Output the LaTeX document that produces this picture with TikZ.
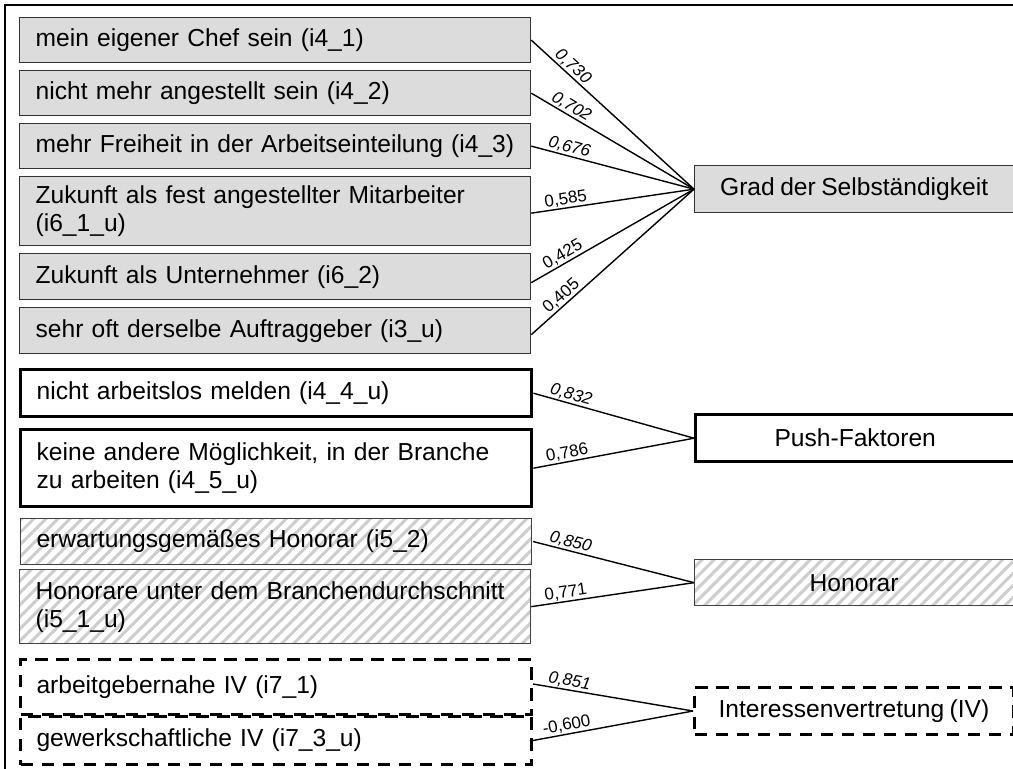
\documentclass[tikz,border=0pt]{standalone}
\usepackage{fontspec}
\setmainfont{Liberation Sans}[WordSpace=0.8]
\usetikzlibrary{patterns.meta}
\definecolor{boxgray}{RGB}{220,220,220}
\definecolor{hatchgray}{RGB}{205,205,205}
\begin{document}
\begin{tikzpicture}[x=1pt,y=-1pt,
  base/.style={rectangle, anchor=north west, inner xsep=16pt, inner ysep=0pt,
    font=\fontsize{24.6}{28}\selectfont, text width=479pt, align=left},
  graybox/.style={base, draw=black!80, line width=1.3pt, fill=boxgray},
  thickbox/.style={base, draw=black, line width=3.4pt},
  hatchbox/.style={base, draw=black!75, line width=1.3pt,
    pattern={Lines[angle=45,distance=8.5pt,line width=3pt]}, pattern color=hatchgray},
  dashbox/.style={base, draw=black, line width=3pt, dash pattern=on 12.5pt off 8.5pt},
  factor/.style={rectangle, anchor=north west, inner sep=0pt, minimum width=319pt,
    font=\fontsize{24.6}{28}\selectfont, align=center},
  conn/.style={draw=black, line width=1.4pt},
  lab/.style={font=\fontsize{17}{18}\selectfont, sloped, above, pos=0.22, inner sep=1pt},
  labit/.style={lab, font=\fontsize{17}{18}\selectfont\itshape}
]
\useasboundingbox (0,0) rectangle (1013,769);
% outer frame (top and left)
\draw[line width=2.2pt] (5,769) -- (5,5) -- (1013,5);

% left boxes
\node[graybox, minimum height=45pt] (b1) at (19,17) {mein eigener Chef sein (i4\_1)};
\node[graybox, minimum height=45pt] (b2) at (19,70) {nicht mehr angestellt sein (i4\_2)};
\node[graybox, minimum height=45pt] (b3) at (19,123) {mehr Freiheit in der Arbeitseinteilung (i4\_3)};
\node[graybox, minimum height=69pt] (b4) at (19,176) {Zukunft als fest angestellter Mitarbeiter\\(i6\_1\_u)};
\node[graybox, minimum height=46pt] (b5) at (19,253) {Zukunft als Unternehmer (i6\_2)};
\node[graybox, minimum height=46pt] (b6) at (19,307) {sehr oft derselbe Auftraggeber (i3\_u)};

\node[thickbox, minimum height=47pt] (b7) at (19,368) {nicht arbeitslos melden (i4\_4\_u)};
\node[thickbox, minimum height=77pt] (b8) at (19,428) {keine andere Möglichkeit, in der Branche\\zu arbeiten (i4\_5\_u)};

\node[hatchbox, minimum height=46pt] (b9) at (19,517) {erwartungsgemäßes Honorar (i5\_2)};
\node[hatchbox, minimum height=74pt] (b10) at (19,569) {Honorare unter dem Branchendurchschnitt\\(i5\_1\_u)};

\node[dashbox, minimum height=55pt] (b11) at (19,658) {arbeitgebernahe IV (i7\_1)};
\node[dashbox, minimum height=48pt] (b12) at (19,715) {gewerkschaftliche IV (i7\_3\_u)};

% factor boxes
\node[factor, draw=black!80, line width=1.3pt, fill=boxgray, minimum height=47pt] (f1) at (694,165) {Grad der Selbständigkeit};
\node[factor, draw=black, line width=3.4pt, minimum height=47pt] (f2) at (694,413) {Push-Faktoren};
\node[factor, draw=black!75, line width=1.3pt, pattern={Lines[angle=45,distance=8.5pt,line width=3pt]}, pattern color=hatchgray, minimum height=46pt] (f3) at (694,559) {Honorar};
\node[factor, draw=black, line width=3pt, dash pattern=on 12.5pt off 8.5pt, minimum height=47pt] (f4) at (693,686) {Interessenvertretung (IV)};

% connectors
\draw[conn] (b1.east) -- node[labit] {0,730} (f1.west);
\draw[conn] (b2.east) -- node[labit] {0,702} (f1.west);
\draw[conn] (b3.east) -- node[labit] {0,676} (f1.west);
\draw[conn] ([yshift=-2pt]b4.east) -- node[lab] {0,585} (f1.west);
\draw[conn] ([yshift=-6pt]b5.east) -- node[lab] {0,425} (f1.west);
\draw[conn] ([yshift=-4pt]b6.east) -- node[lab] {0,405} (f1.west);

\draw[conn] (b7.east) -- node[labit] {0,832} (f2.west);
\draw[conn] (b8.east) -- node[lab] {0,786} (f2.west);

\draw[conn] (b9.east) -- node[labit] {0,850} (f3.west);
\draw[conn] (b10.east) -- node[lab] {0,771} (f3.west);

\draw[conn] ([yshift=3pt]b11.east) -- node[labit] {0,851} (f4.west);
\draw[conn] (b12.east) -- node[lab] {-0,600} (f4.west);
\end{tikzpicture}
\end{document}
